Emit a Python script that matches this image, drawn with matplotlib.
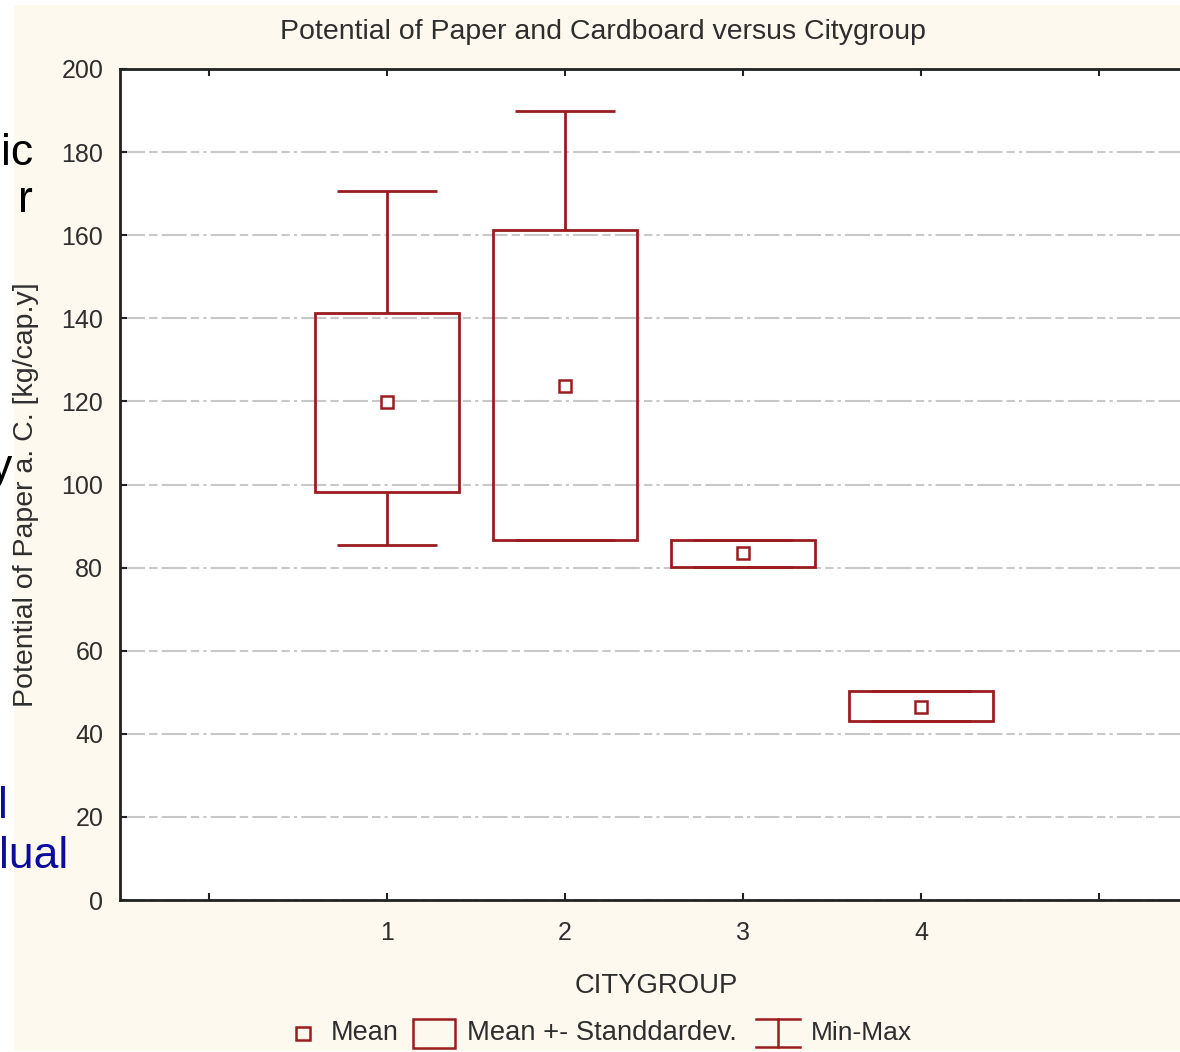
import matplotlib
matplotlib.use("Agg")
import matplotlib.pyplot as plt
from matplotlib.patches import Rectangle
from matplotlib import font_manager

plt.rcParams['font.family'] = ['Liberation Sans', 'DejaVu Sans']

# ---- data ----
groups = [1, 2, 3, 4]
means = [119.9, 123.7, 83.5, 46.4]
sd_low = [98.2, 86.6, 80.1, 43.1]
sd_high = [141.3, 161.3, 86.6, 50.3]
mins = [85.4, 86.6, 80.1, 43.1]
maxs = [170.6, 189.9, 86.6, 50.3]
xtick_pos = [0, 1, 2, 3, 4, 5]
xtick_labels = ['', '1', '2', '3', '4', '']
ytick_vals = [0, 20, 40, 60, 80, 100, 120, 140, 160, 180, 200]

RED = '#9a1c1f'
CREAM = '#fef9ee'
TXT = '#2e2e2e'
W, H = 1180, 1052

names = {f.name for f in font_manager.fontManager.ttflist}
NARROW = 'Liberation Sans Narrow' if 'Liberation Sans Narrow' in names else None

fig = plt.figure(figsize=(W / 100, H / 100), dpi=100)
fig.patch.set_facecolor('white')

bg = fig.add_axes([0, 0, 1, 1], zorder=-1)
bg.set_xlim(0, W)
bg.set_ylim(H, 0)
bg.axis('off')
bg.add_patch(Rectangle((14, 5), W - 14, H - 6, facecolor=CREAM, edgecolor='none'))

ax_left, ax_top, ax_bottom = 120, 69, 900
unit = 178.0
ax_w = 6 * unit
ax = fig.add_axes([ax_left / W, 1 - ax_bottom / H, ax_w / W, (ax_bottom - ax_top) / H], zorder=1)
ax.set_facecolor('white')
ax.set_xlim(-0.5, 5.5)
ax.set_ylim(0, 200)

ax.bar(groups, [h - l for h, l in zip(sd_high, sd_low)], bottom=sd_low, width=0.81,
       fill=False, edgecolor=RED, linewidth=2, zorder=3)
ax.vlines(groups, sd_high, maxs, color=RED, linewidth=2, zorder=3)
ax.vlines(groups, mins, sd_low, color=RED, linewidth=2, zorder=3)
ax.hlines(maxs, [g - 0.28 for g in groups], [g + 0.28 for g in groups], color=RED, linewidth=2, zorder=3)
ax.hlines(mins, [g - 0.28 for g in groups], [g + 0.28 for g in groups], color=RED, linewidth=2, zorder=3)
ax.plot(groups, means, linestyle='none', marker='s', markersize=9, markerfacecolor='white',
        markeredgecolor=RED, markeredgewidth=1.8, zorder=4)

ax.set_yticks(ytick_vals)
ax.set_xticks(xtick_pos)
ax.set_xticklabels(xtick_labels)
ax.yaxis.grid(True, color='#c8c8c8', linewidth=1.5,
              linestyle=(0, (12, 2, 4, 2, 12, 2, 4, 2, 1.5, 2)))
ax.set_axisbelow(True)

for s in ['left', 'bottom', 'top']:
    ax.spines[s].set_linewidth(2)
    ax.spines[s].set_color('#222222')
ax.spines['right'].set_visible(False)

ax.tick_params(axis='y', direction='in', length=5, width=1.5, pad=12,
               colors='#222222', labelcolor=TXT)
ax.tick_params(axis='x', direction='in', length=5, width=1.5, pad=15,
               top=True, colors='#222222', labelcolor=TXT)
for lab in ax.get_yticklabels() + ax.get_xticklabels():
    if NARROW:
        lab.set_family(NARROW)
        lab.set_fontsize(21)
    else:
        lab.set_fontsize(18)

def px(x, y):
    return x / W, 1 - y / H

fig.text(*px(603, 32), 'Potential of Paper and Cardboard versus Citygroup', ha='center', va='center',
         fontsize=20.5, color=TXT)
fig.text(*px(656, 986), 'CITYGROUP', ha='center', va='center', fontsize=19.8, color=TXT)
fig.text(*px(26, 495), 'Potential of Paper a. C. [kg/cap.y]', ha='center', va='center',
         rotation=90, fontsize=20.5, color=TXT)

leg_y = 1033
bg.add_patch(Rectangle((296, leg_y - 6.5), 14, 13, facecolor='none', edgecolor=RED, linewidth=1.8))
bg.text(331, leg_y, 'Mean', ha='left', va='center', fontsize=19.5, color=TXT)
bg.add_patch(Rectangle((413, leg_y - 14), 42, 29, facecolor='none', edgecolor=RED, linewidth=1.8))
bg.text(467, leg_y, 'Mean +- Standdardev.', ha='left', va='center', fontsize=19.7, color=TXT)
bg.plot([756, 800], [1019, 1019], color=RED, linewidth=1.8)
bg.plot([756, 800], [1047, 1047], color=RED, linewidth=1.8)
bg.plot([778, 778], [1019, 1047], color=RED, linewidth=1.8)
bg.text(811, leg_y, 'Min-Max', ha='left', va='center', fontsize=19, color=TXT)

bg.text(33, 165, 'ic', ha='right', va='baseline', fontsize=32, color='black')
bg.text(33, 212, 'r', ha='right', va='baseline', fontsize=32, color='black')
bg.text(12, 480, 'y', ha='right', va='baseline', fontsize=32, color='black')
bg.text(8, 818, 'l', ha='right', va='baseline', fontsize=32, color='#0b0b9e')
bg.text(68, 868, 'lual', ha='right', va='baseline', fontsize=32, color='#0b0b9e')

fig.savefig('out.png', dpi=100)
